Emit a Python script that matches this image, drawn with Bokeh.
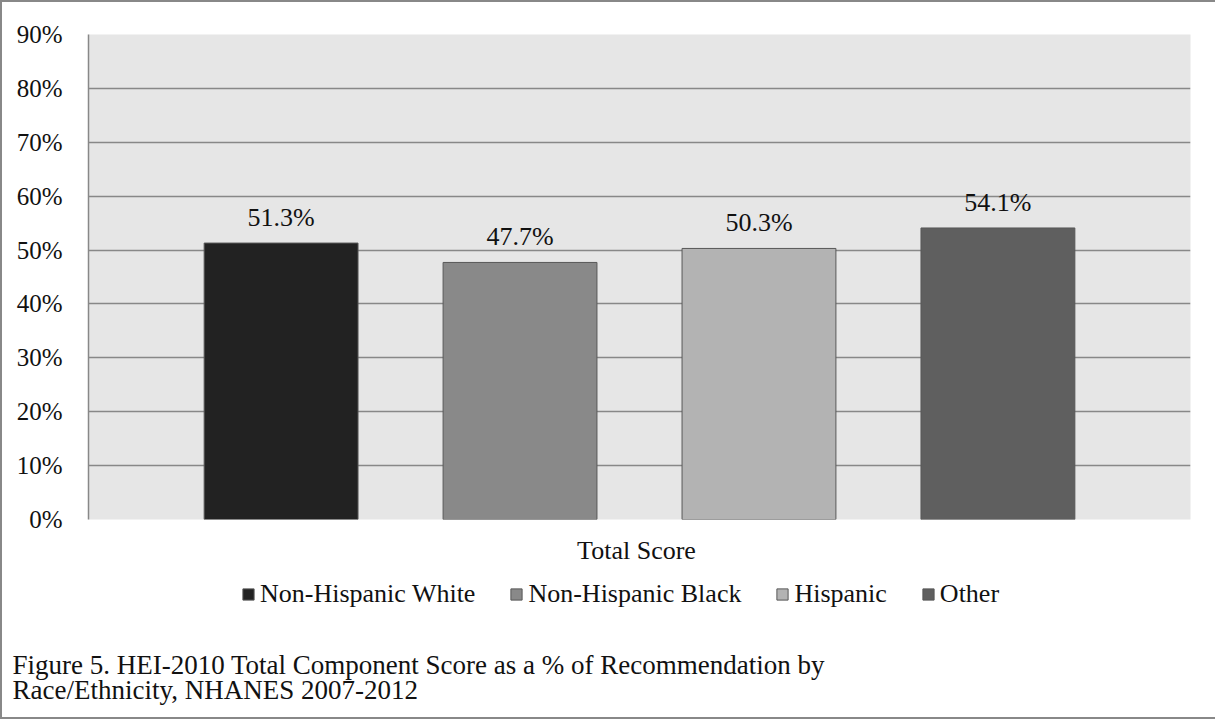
from bokeh.plotting import figure
from bokeh.layouts import column
from bokeh.models import (ColumnDataSource, FactorRange, Range1d, LabelSet, Label,
                          Legend, LegendItem, PrintfTickFormatter, FixedTicker)
from bokeh.embed import file_html
from bokeh.resources import INLINE

groups = ["Non-Hispanic White", "Non-Hispanic Black", "Hispanic", "Other"]
values = [51.3, 47.7, 50.3, 54.1]
labels = ["51.3%", "47.7%", "50.3%", "54.1%"]
colors = ["#222222", "#898989", "#b3b3b3", "#5f5f5f"]
y_ticks = [0, 10, 20, 30, 40, 50, 60, 70, 80, 90]
category = "Total Score"
caption = ["Figure 5. HEI-2010 Total Component Score as a % of Recommendation by",
           "Race/Ethnicity, NHANES 2007-2012"]

FONT = "Liberation Serif"
TXT = "#111111"
GRID = "#888888"
EDGE = "#585858"
BORDER = "2px solid #888888"

src = ColumnDataSource(dict(g=groups, v=values, lab=labels, c=colors))

# ---- main chart ----
p = figure(width=1215, height=533, output_backend="svg", toolbar_location=None,
           x_range=FactorRange(*groups, range_padding=0.153, range_padding_units="percent"),
           y_range=Range1d(0, 90),
           min_border_left=86, min_border_right=27, min_border_top=32, min_border_bottom=16)
p.frame_align = False
p.styles = {"border-left": BORDER, "border-top": BORDER}
p.outline_line_color = None
p.background_fill_color = "#e6e6e6"
p.border_fill_color = "white"

r = p.vbar(x="g", top="v", width=0.644, source=src, fill_color="c",
           line_color=EDGE, line_width=1)

p.add_layout(LabelSet(x="g", y="v", text="lab", source=src, y_offset=17,
                      text_align="center", text_baseline="alphabetic",
                      text_font=FONT, text_font_size="26px", text_color=TXT))

p.xaxis.visible = False
p.xgrid.visible = False
p.ygrid.ticker = FixedTicker(ticks=y_ticks)
p.ygrid.grid_line_color = GRID
p.ygrid.grid_line_width = 1.5

ya = p.yaxis[0]
ya.ticker = FixedTicker(ticks=y_ticks)
ya.formatter = PrintfTickFormatter(format="%d%%")
ya.major_tick_line_color = None
ya.minor_tick_line_color = None
ya.major_tick_out = 0
ya.major_tick_in = 0
ya.axis_line_color = GRID
ya.axis_line_width = 1.5
ya.major_label_standoff = 26
ya.major_label_text_font = FONT
ya.major_label_text_font_size = "25px"
ya.major_label_text_color = TXT

# ---- area below the chart: category name, legend, caption ----
H2 = 186
q = figure(width=1215, height=H2, output_backend="svg", toolbar_location=None,
           x_range=Range1d(0, 1215), y_range=Range1d(H2, 0),
           min_border=0)
q.frame_align = False
q.styles = {"border-left": BORDER, "border-bottom": BORDER}
q.xaxis.visible = False
q.yaxis.visible = False
q.grid.visible = False
q.outline_line_color = None
q.background_fill_color = "white"
q.border_fill_color = "white"

q.add_layout(Label(x=634, y=17, text=category, text_align="center",
                   text_baseline="alphabetic", text_font=FONT,
                   text_font_size="26px", text_color=TXT))

for i, line in enumerate(caption):
    q.add_layout(Label(x=10, y=131 + 25 * i, text=line, text_align="left",
                       text_baseline="alphabetic", text_font=FONT,
                       text_font_size="27px", text_color=TXT))

# legend swatches: same data and colours; the category x values do not map
# onto this plain numeric panel, so only the legend draws them
sw = q.vbar(x="g", top="v", width=1, source=src, fill_color="c",
            line_color=EDGE, line_width=1)
items = [LegendItem(label=g, renderers=[sw], index=i) for i, g in enumerate(groups)]
leg = Legend(items=items, orientation="horizontal", location=(239, 110),
             glyph_width=14, glyph_height=14, label_standoff=5, spacing=34,
             padding=0, margin=0, border_line_color=None, background_fill_alpha=0,
             label_text_font=FONT, label_text_font_size="26px", label_text_color=TXT)
q.add_layout(leg, "center")

layout = column(p, q, spacing=0)
open("out.html", "w").write(file_html(layout, INLINE))
